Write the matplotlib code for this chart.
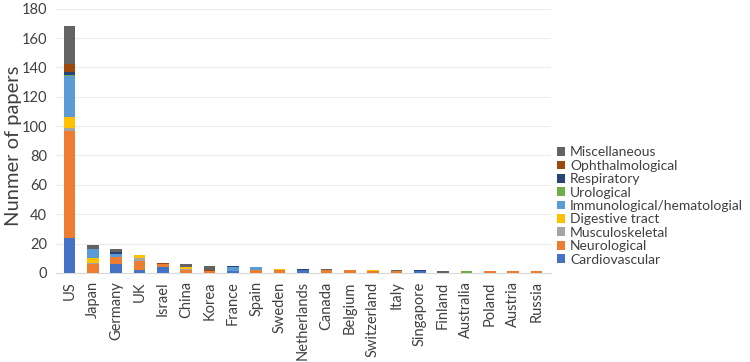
import numpy as np
import matplotlib.pyplot as plt

plt.rcParams['font.family'] = ['Lato', 'DejaVu Sans']

countries = ['US', 'Japan', 'Germany', 'UK', 'Israel', 'China', 'Korea', 'France', 'Spain',
             'Sweden', 'Netherlands', 'Canada', 'Belgium', 'Switzerland', 'Italy', 'Singapore',
             'Finland', 'Australia', 'Poland', 'Austria', 'Russia']

cardiovascular = [24, 0, 6, 2, 4, 0, 0, 1, 0, 0, 2, 0, 0, 0, 0, 1, 0, 0, 0, 0, 0]
neurological   = [73, 6, 5, 6, 2, 2, 1, 0, 2, 2, 0, 2, 2, 1, 1, 0, 0, 0, 1, 1, 1]
musculoskeletal = [2, 1, 0, 2, 0, 1, 0, 0, 0, 0, 0, 0, 0, 0, 0, 0, 0, 0, 0, 0, 0]
digestive      = [7, 3, 0, 2, 0, 1, 0, 0, 0, 1, 0, 0, 0, 1, 0, 0, 0, 0, 0, 0, 0]
immuno         = [28, 6, 2, 0, 0, 0, 0, 3, 2, 0, 0, 0, 0, 0, 0, 0, 0, 0, 0, 0, 0]
urological     = [1, 0, 0, 0, 0, 0, 0, 0, 0, 0, 0, 0, 0, 0, 0, 0, 0, 1, 0, 0, 0]
respiratory    = [2, 0, 1, 0, 0, 0, 0, 1, 0, 0, 1, 0, 0, 0, 0, 1, 0, 0, 0, 0, 0]
ophthalmological = [5, 0, 0, 0, 1, 0, 1, 0, 0, 0, 0, 0, 0, 0, 0, 0, 0, 0, 0, 0, 0]
miscellaneous  = [26, 3, 2, 0, 0, 2, 3, 0, 0, 0, 0, 1, 0, 0, 1, 0, 1, 0, 0, 0, 0]

series = [
    ('Cardiovascular', cardiovascular, '#4472C4'),
    ('Neurological', neurological, '#ED7D31'),
    ('Musculoskeletal', musculoskeletal, '#A5A5A5'),
    ('Digestive tract', digestive, '#FFC000'),
    ('Immunological/hematologial', immuno, '#5B9BD5'),
    ('Urological', urological, '#70AD47'),
    ('Respiratory', respiratory, '#264478'),
    ('Ophthalmological', ophthalmological, '#9E480E'),
    ('Miscellaneous', miscellaneous, '#636363'),
]

fig = plt.figure(figsize=(7.5, 3.62), dpi=100)
ax = fig.add_axes([0.074, 0.246, 0.66, 0.73])

x = np.arange(len(countries))
bottom = np.zeros(len(countries))
handles = []
for name, vals, col in series:
    b = ax.bar(x, vals, 0.5, bottom=bottom, color=col, label=name, zorder=3)
    handles.append(b)
    bottom += np.array(vals)

ax.set_ylim(0, 180)
ax.set_yticks(range(0, 181, 20))
ax.set_xlim(-0.6, len(countries) - 0.4)
ax.set_xticks(x)
ax.set_xticklabels(countries, rotation=90, fontsize=10.5, color='#404040')
ax.tick_params(axis='y', labelsize=10.5, colors='#404040', length=0, pad=6)
ax.tick_params(axis='x', length=0, pad=6)
ax.grid(axis='y', color='#ececec', linewidth=0.8, zorder=0)
for s in ['top', 'right', 'left']:
    ax.spines[s].set_visible(False)
ax.spines['bottom'].set_color('#d9d9d9')
ax.set_ylabel('Nunmer of papers', fontsize=14.5, color='#404040')
ax.yaxis.set_label_coords(-0.068, 0.48)

leg = fig.legend(handles[::-1], [s[0] for s in series][::-1], loc='center left',
                 bbox_to_anchor=(0.735, 0.431), frameon=False, fontsize=10,
                 handlelength=0.6, handleheight=0.6, handletextpad=0.35,
                 labelspacing=0.1, labelcolor='#404040', borderaxespad=0)

fig.savefig('out.png', dpi=100)
